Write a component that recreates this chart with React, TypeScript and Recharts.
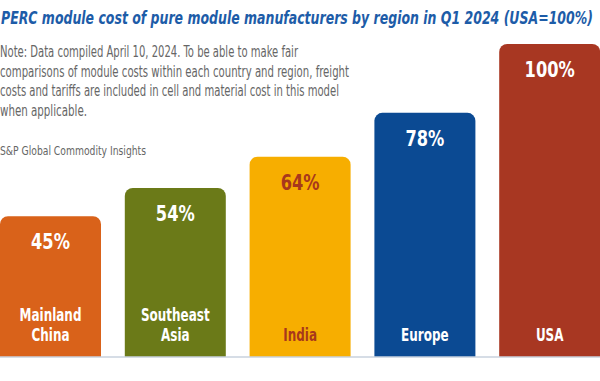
import { BarChart, Bar, XAxis, YAxis, Cell, LabelList, ReferenceLine } from 'recharts';

const categories = ['Mainland\nChina', 'Southeast\nAsia', 'India', 'Europe', 'USA'];
const costShare = [45, 54, 64, 78, 100];
const barColors = ['#d9621a', '#6b7a18', '#f7ae00', '#0b4a93', '#a83722'];
const labelColors = ['#ffffff', '#ffffff', '#a8381c', '#ffffff', '#ffffff'];

const title = 'PERC module cost of pure module manufacturers by region in Q1 2024 (USA=100%)';
const noteLines = [
  'Note: Data compiled April 10, 2024. To be able to make fair',
  'comparisons of module costs within each country and region, freight',
  'costs and tariffs are included in cell and material cost in this model',
  'when applicable.',
];
const source = 'S&P Global Commodity Insights';

const data = categories.map((name, i) => ({ name, value: costShare[i] }));

const condensed = '"DejaVu Sans Condensed", "DejaVu Sans", sans-serif';

// widths of the header lines as measured on the reference
const noteWidths = [298, 349, 339, 87];

function ValueLabel(props: any) {
  const { x, y, width, value, index } = props;
  return (
    <g transform={`translate(${x + width / 2}, ${y + 26}) scale(0.86, 1)`}>
      <text
        x={0}
        y={0}
        textAnchor="middle"
        dominantBaseline="central"
        fill={labelColors[index]}
        fontFamily={condensed}
        fontWeight="bold"
        fontSize={21}
      >
        {value}%
      </text>
    </g>
  );
}

function NameLabel(props: any) {
  const { x, y, width, height, value, index } = props;
  const lines = String(value).split('\n');
  const bottom = y + height - 22;
  return (
    <g transform={`translate(${x + width / 2}, ${bottom}) scale(0.74, 1)`}>
      <text textAnchor="middle" fill={labelColors[index]} fontFamily={condensed} fontWeight="bold" fontSize={18}>
        {lines.map((line, i) => (
          <tspan key={i} x={0} y={-(lines.length - 1 - i) * 20} dominantBaseline="central">
            {line}
          </tspan>
        ))}
      </text>
    </g>
  );
}

export default function App() {
  return (
    <div style={{ position: 'fixed', left: 0, top: 0, width: 600, height: 381, overflow: 'hidden', background: '#fff' }}>
      <div style={{ position: 'absolute', left: -12, top: 0 }}>
        <BarChart width={624} height={381} data={data} margin={{ top: 44, right: 0, bottom: 24, left: 0 }} barSize={101}>
          <XAxis dataKey="name" hide />
          <YAxis hide domain={[0, 100]} />
          <Bar dataKey="value" radius={[8, 8, 0, 0]} isAnimationActive={false}>
            {data.map((d, i) => (
              <Cell key={d.name} fill={barColors[i]} />
            ))}
            <LabelList dataKey="value" content={ValueLabel} />
            <LabelList dataKey="name" content={NameLabel} />
          </Bar>
          <ReferenceLine y={0} stroke="#c9d2de" strokeWidth={1.5} />
        </BarChart>
      </div>
      <svg width={600} height={170} style={{ position: 'absolute', left: 0, top: 0 }}>
        {/* small font stretched vertically, to imitate the condensed face */}
        <g transform="translate(1, 24) scale(1, 1.33)">
          <text
            x={0}
            y={0}
            textLength={592}
            lengthAdjust="spacingAndGlyphs"
            fontFamily={condensed}
            fontWeight="bold"
            fontStyle="italic"
            fontSize={13.5}
            fill="#1d5ca8"
          >
            {title}
          </text>
        </g>
        {noteLines.map((l, i) => (
          <text
            key={i}
            x={0}
            y={57 + i * 19.7}
            textLength={noteWidths[i]}
            lengthAdjust="spacingAndGlyphs"
            fontFamily={condensed}
            fontSize={16.5}
            fill="#666666"
          >
            {l}
          </text>
        ))}
        <text
          x={0}
          y={155}
          textLength={146}
          lengthAdjust="spacingAndGlyphs"
          fontFamily={condensed}
          fontSize={13}
          fill="#666666"
        >
          {source}
        </text>
      </svg>
    </div>
  );
}
